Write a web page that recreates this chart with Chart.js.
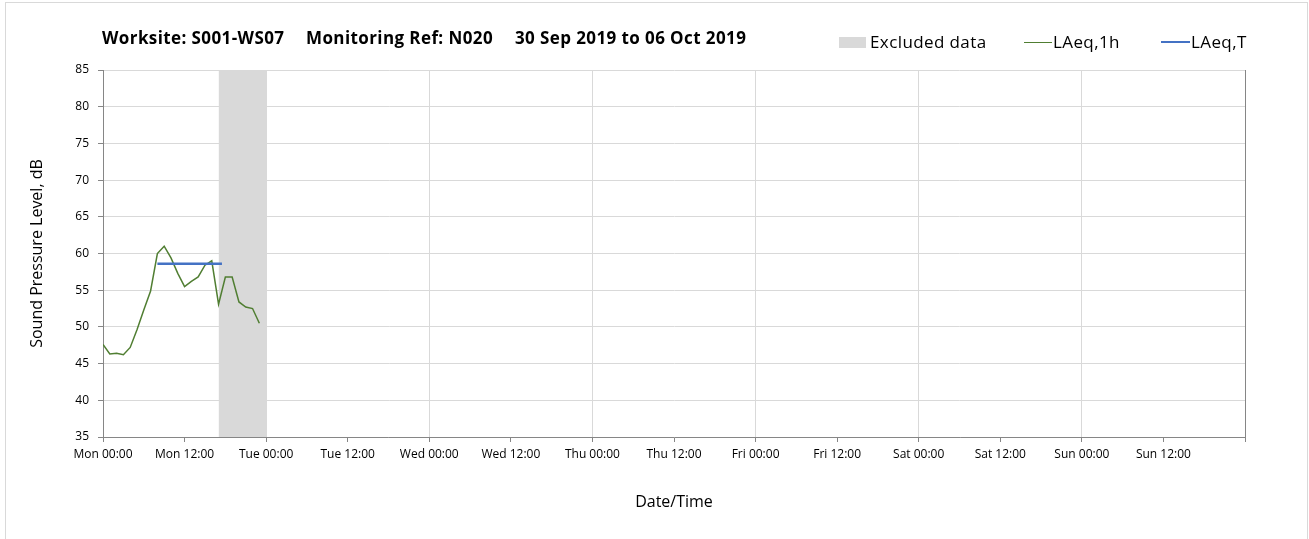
<!DOCTYPE html>
<html>
<head>
<meta charset="utf-8">
<script src="https://cdn.jsdelivr.net/npm/chart.js@4/dist/chart.umd.min.js"></script>
<style>
  html, body { margin: 0; padding: 0; background: #fff; overflow: hidden; }
  body { width: 1309px; height: 539px; position: relative; font-family: "Open Sans", sans-serif; color: #000; }
  #frame { position: absolute; left: 5px; top: 2px; width: 1301px; height: 560px; border: 1px solid #d9d9d9; }
  #chart { position: absolute; left: 0; top: 0; }
  .t { position: absolute; top: 26px; font-weight: bold; font-size: 17px; letter-spacing: 0.4px; white-space: nowrap; }
  .lg { position: absolute; top: 30px; font-size: 17px; letter-spacing: 0.4px; white-space: nowrap; }
  .sw { position: absolute; }
</style>
</head>
<body>
<div id="frame"></div>
<canvas id="chart" width="1309" height="539"></canvas>

<div class="t" style="left:102px">Worksite: S001-WS07</div>
<div class="t" style="left:306px">Monitoring Ref: N020</div>
<div class="t" style="left:515px">30 Sep 2019 to 06 Oct 2019</div>

<div class="sw" style="left:839px; top:37px; width:27px; height:11px; background:#d9d9d9"></div>
<div class="lg" style="left:870px">Excluded data</div>
<div class="sw" style="left:1024px; top:42px; width:28px; height:1px; background:#507e32"></div>
<div class="lg" style="left:1053px">LAeq,1h</div>
<div class="sw" style="left:1161px; top:41px; width:29px; height:2px; background:#4472c4"></div>
<div class="lg" style="left:1191px">LAeq,T</div>

<script>
// hours since Mon 30 Sep 2019 00:00
const hours = [0, 1, 2, 3, 4, 5, 6, 7, 8, 9, 10, 11, 12, 13, 14, 15, 16, 17, 18, 19, 20, 21, 22, 23];
const laeq1h = [47.6, 46.3, 46.4, 46.2, 47.2, 49.6, 52.3, 54.9, 60.0, 61.0, 59.4, 57.3, 55.5, 56.2, 56.8, 58.4, 59.0, 53.1, 56.8, 56.8, 53.4, 52.7, 52.5, 50.5];

// LAeq,T over the daytime period
const laeqTHours = [8, 17.5];
const laeqTValue = 58.6;

// excluded period (start, end in hours)
const excludedHours = [17, 24];

const xTickLabels = ['Mon 00:00', 'Mon 12:00', 'Tue 00:00', 'Tue 12:00', 'Wed 00:00', 'Wed 12:00',
  'Thu 00:00', 'Thu 12:00', 'Fri 00:00', 'Fri 12:00', 'Sat 00:00', 'Sat 12:00', 'Sun 00:00', 'Sun 12:00', ''];

const axisGrey = '#868686';
const gridGrey = '#d9d9d9';
const tickFont = { family: 'Open Sans', size: 12 };
const titleFont = { family: 'Open Sans', size: 16 };

const ctx = document.getElementById('chart').getContext('2d');
new Chart(ctx, {
  type: 'line',
  data: {
    datasets: [
      {
        label: 'LAeq,T',
        data: laeqTHours.map(h => ({ x: h, y: laeqTValue })),
        borderColor: '#4472c4', borderWidth: 2.5, pointRadius: 0, order: 1
      },
      {
        label: 'LAeq,1h',
        data: hours.map((h, i) => ({ x: h, y: laeq1h[i] })),
        borderColor: '#507e32', borderWidth: 1.5, pointRadius: 0, tension: 0, order: 2
      },
      {
        label: 'Excluded data',
        data: excludedHours.map(h => ({ x: h, y: 85 })),
        borderWidth: 0, borderColor: 'rgba(0,0,0,0)', backgroundColor: '#d9d9d9',
        fill: 'start', pointRadius: 0, order: 3
      }
    ]
  },
  options: {
    responsive: false,
    animation: false,
    layout: { padding: { left: 5, top: 70, right: 64, bottom: 0 } },
    plugins: { legend: { display: false }, tooltip: { enabled: false } },
    scales: {
      x: {
        type: 'linear', min: 0, max: 168,
        afterFit: s => { s.height = 102; },
        border: { color: axisGrey },
        grid: {
          color: c => c.tick.value === 168 ? axisGrey : (c.tick.value % 24 === 0 ? gridGrey : 'rgba(0,0,0,0)'),
          tickColor: axisGrey, tickLength: 5
        },
        ticks: {
          stepSize: 12, autoSkip: false, maxRotation: 0, padding: 5,
          color: '#000', font: tickFont,
          callback: (v, i) => xTickLabels[i]
        },
        title: { display: true, text: 'Date/Time', color: '#000', font: titleFont, padding: { top: 0, bottom: 27 } }
      },
      y: {
        min: 35, max: 85,
        afterFit: s => { s.width = 98; },
        border: { color: axisGrey },
        grid: { color: gridGrey, tickColor: axisGrey, tickLength: 5 },
        ticks: { stepSize: 5, padding: 9, color: '#000', font: tickFont },
        title: { display: true, text: 'Sound Pressure Level, dB', color: '#000', font: titleFont, padding: { top: 23, bottom: 0 } }
      }
    }
  }
});
</script>
</body>
</html>
